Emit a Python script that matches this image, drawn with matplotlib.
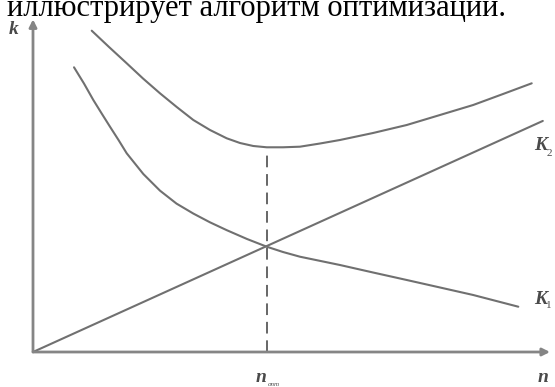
import matplotlib
matplotlib.use("Agg")
import matplotlib.pyplot as plt

# ---- data (n, k units) ----
n_total = [1.138, 1.473, 1.816, 2.132, 2.461, 2.785, 3.107, 3.430, 3.754, 4.012, 4.269,
           4.529, 4.845, 5.174, 5.562, 5.950, 6.589, 7.242, 7.888, 8.531, 9.109, 9.665]
k_total = [9.678, 9.187, 8.696, 8.238, 7.792, 7.380, 6.988, 6.687, 6.437, 6.295, 6.205,
           6.166, 6.166, 6.184, 6.280, 6.386, 6.596, 6.837, 7.139, 7.440, 7.771, 8.093]

n_k1 = [0.795, 0.988, 1.169, 1.337, 1.492, 1.657, 1.816, 2.138, 2.461, 2.781, 3.107, 3.430,
        3.754, 4.147, 4.529, 4.845, 5.174, 5.950, 6.589, 7.242, 7.888, 8.531, 9.405]
k_k1 = [8.575, 8.087, 7.590, 7.169, 6.786, 6.386, 5.985, 5.361, 4.860, 4.470, 4.170, 3.906,
        3.670, 3.404, 3.172, 3.012, 2.870, 2.620, 2.395, 2.169, 1.943, 1.717, 1.364]

n_k2 = [0.0, 9.88]
k_k2 = [0.0, 6.96]

n_opt = 4.53
k_opt_top = 5.93

caption = "иллюстрирует алгоритм оптимизации."

W, H = 555, 387
fig = plt.figure(figsize=(W / 100, H / 100), dpi=100)
fig.patch.set_facecolor("white")

def fx(px):
    return px / W

def fy(py):
    return 1 - py / H

ax = fig.add_axes([fx(33), fy(352), (549 - 33) / W, (352 - 20) / H])
ax.set_xlim(0, 10)
ax.set_ylim(0, 10)
ax.axis("off")

line_col = "#707070"
axis_col = "#858585"

# axes with arrows
ax.annotate("", xy=(10.02, 0), xytext=(0, 0),
            arrowprops=dict(arrowstyle="-|>", color=axis_col, lw=2.0,
                            mutation_scale=11, shrinkA=0, shrinkB=0),
            annotation_clip=False)
ax.annotate("", xy=(0, 10.02), xytext=(0, 0),
            arrowprops=dict(arrowstyle="-|>", color=axis_col, lw=2.0,
                            mutation_scale=11, shrinkA=0, shrinkB=0),
            annotation_clip=False)

style = dict(color=line_col, lw=1.5, clip_on=False,
             solid_capstyle="round", solid_joinstyle="round")
ax.plot(n_total, k_total, **style)
ax.plot(n_k1, k_k1, **style)
ax.plot(n_k2, k_k2, **style)
ax.plot([n_opt, n_opt], [0, k_opt_top], color="#666666", lw=1.4,
        linestyle=(0, (6, 3.5)), clip_on=False)

lab = dict(family="Liberation Serif", style="italic", weight="bold", color="#4a4a4a")

fig.text(fx(7), fy(16), caption, family="Liberation Serif", fontsize=22,
         color="black", ha="left", va="baseline")

fig.text(fx(14), fy(30), "k", fontsize=14, ha="center", va="center", **lab)
fig.text(fx(543), fy(378), "n", fontsize=14, ha="center", va="center", **lab)
fig.text(fx(261), fy(378), "n", fontsize=14, ha="center", va="center", **lab)
fig.text(fx(268), fy(385), "опт", fontsize=5, ha="left", va="center",
         family="Liberation Serif", style="italic", color="#4a4a4a")
fig.text(fx(541), fy(146), "K", fontsize=14, ha="center", va="center", **lab)
fig.text(fx(549), fy(153), "2", fontsize=8, ha="center", va="center",
         family="Liberation Serif", color="#4a4a4a")
fig.text(fx(541), fy(299), "K", fontsize=14, ha="center", va="center", **lab)
fig.text(fx(549), fy(306), "1", fontsize=8, ha="center", va="center",
         family="Liberation Serif", color="#4a4a4a")

fig.savefig("out.png", dpi=100, facecolor="white")
